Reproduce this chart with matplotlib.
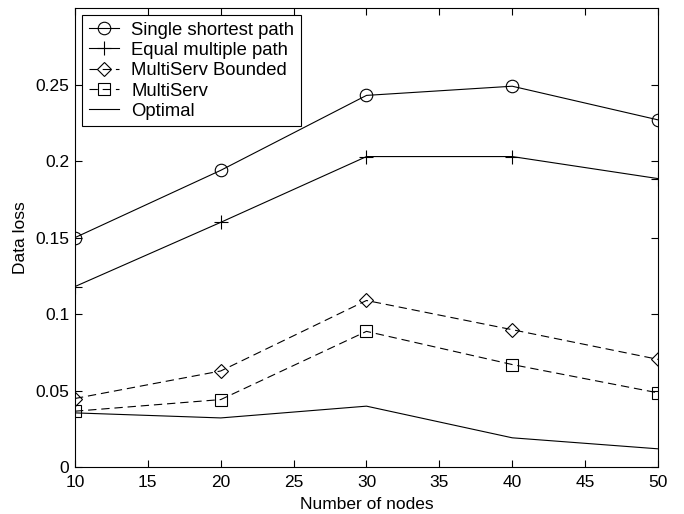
import matplotlib as mpl
import matplotlib.pyplot as plt

mpl.rcParams.update({
    "font.family": ["Liberation Sans", "DejaVu Sans"],
    "font.size": 12.5,
    "lines.scale_dashes": False,
    "xtick.direction": "in",
    "ytick.direction": "in",
    "xtick.top": True,
    "ytick.right": True,
})

nodes = [10, 20, 30, 40, 50]
single_shortest = [0.150, 0.194, 0.243, 0.249, 0.227]
equal_multiple = [0.118, 0.160, 0.203, 0.203, 0.1886]
multiserv_bounded = [0.0448, 0.0628, 0.1089, 0.0898, 0.0704]
multiserv = [0.0365, 0.0441, 0.0887, 0.0670, 0.0485]
optimal = [0.0354, 0.0321, 0.0398, 0.0191, 0.0119]

fig = plt.figure(figsize=(6.84, 5.14), dpi=100)
ax = fig.add_axes([0.1096, 0.0914, 0.8524, 0.8926])

style = dict(color="black", lw=0.8, mfc="none", mec="black", mew=0.8)
ax.plot(nodes, single_shortest, marker="o", ms=9, label="Single shortest path", **style)
ax.plot(nodes, equal_multiple, marker="+", ms=10, label="Equal multiple path", **style)
ax.plot(nodes, multiserv_bounded, marker="D", ms=7.5, ls=(0, (6, 3.5)),
        label="MultiServ Bounded", **style)
ax.plot(nodes, multiserv, marker="s", ms=9, ls=(0, (6, 3.5)),
        label="MultiServ", **style)
ax.plot(nodes, optimal, label="Optimal", **style)

ax.set_xlim(10, 50)
ax.set_ylim(0, 0.3)
ax.set_xticks(range(10, 55, 5))
ax.set_yticks([0, 0.05, 0.1, 0.15, 0.2, 0.25])
ax.set_yticklabels(["0", "0.05", "0.1", "0.15", "0.2", "0.25"])
ax.tick_params(length=5, width=0.8, labelsize=12.5)
ax.tick_params(axis="x", pad=6)
ax.tick_params(axis="y", pad=4)
for s in ax.spines.values():
    s.set_linewidth(0.8)

ax.set_xlabel("Number of nodes", fontsize=12.5, labelpad=5)
ax.set_ylabel("Data loss", fontsize=12.5, labelpad=5)

leg = ax.legend(loc="upper left", bbox_to_anchor=(0.003, 0.997), fontsize=13.3,
                handlelength=1.65, handletextpad=0.65, borderpad=0.35,
                labelspacing=0.18, fancybox=False, framealpha=1,
                borderaxespad=0.3)
leg.get_frame().set_edgecolor("black")
leg.get_frame().set_linewidth(0.8)

fig.savefig("out.png", dpi=100)
